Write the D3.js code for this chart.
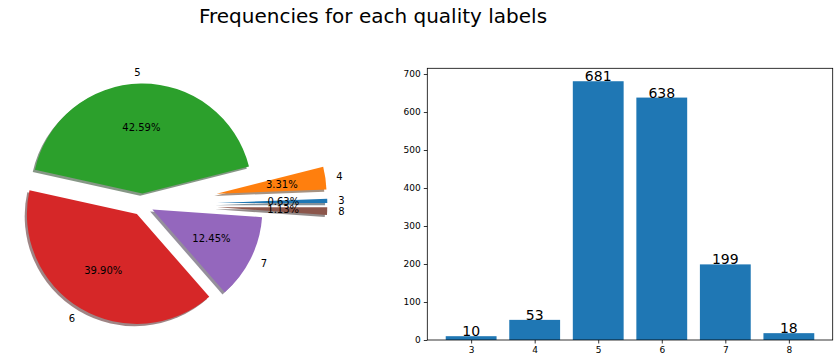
<!DOCTYPE html>
<html>
<head>
<meta charset="utf-8">
<script src="https://cdn.jsdelivr.net/npm/d3@7"></script>
<style>
  body { margin: 0; background: #fff; }
  svg { font-family: "DejaVu Sans", sans-serif; }
</style>
</head>
<body>
<svg id="chart" width="840" height="364"></svg>
<script>
// quality labels and their counts
const labels = ["3", "4", "5", "6", "7", "8"];
const counts = [10, 53, 681, 638, 199, 18];
const explode = [0.68, 0.68, 0.1, 0.1, 0.1, 0.68];
const colors = ["#1f77b4", "#ff7f0e", "#2ca02c", "#d62728", "#9467bd", "#8c564b"];
const yTicks = [0, 100, 200, 300, 400, 500, 600, 700];

const svg = d3.select("#chart");

svg.append("text")
  .attr("x", 373).attr("y", 23)
  .attr("text-anchor", "middle")
  .attr("font-size", "20px")
  .text("Frequencies for each quality labels");

// ---- pie ----
const cx = 142.5, cy = 204.5, r = 110;
const total = d3.sum(counts);

// matplotlib style: start at 3 o'clock, go counterclockwise
const pie = d3.pie().sort(null).startAngle(Math.PI / 2).endAngle(Math.PI / 2 - 2 * Math.PI);
const arcs = pie(counts);
const arc = d3.arc().innerRadius(0).outerRadius(r);

// offset of each exploded wedge
const mid = d => (d.startAngle + d.endAngle) / 2;
const offset = (d, i) => {
  const a = mid(d), e = explode[i] * r;
  return [e * Math.sin(a), -e * Math.cos(a)];
};

const pieG = svg.append("g").attr("transform", `translate(${cx},${cy})`);

// shadows first, underneath every wedge
pieG.selectAll("path.shadow")
  .data(arcs)
  .join("path")
  .attr("class", "shadow")
  .attr("d", arc)
  .attr("transform", (d, i) => {
    const [ox, oy] = offset(d, i);
    return `translate(${ox - 2.2},${oy + 2.2})`;
  })
  .attr("fill", (d, i) => {
    const c = d3.rgb(colors[i]);
    return d3.rgb(c.r * 0.3, c.g * 0.3, c.b * 0.3);
  })
  .attr("opacity", 0.5);

pieG.selectAll("path.wedge")
  .data(arcs)
  .join("path")
  .attr("class", "wedge")
  .attr("d", arc)
  .attr("transform", (d, i) => {
    const [ox, oy] = offset(d, i);
    return `translate(${ox},${oy})`;
  })
  .attr("fill", (d, i) => colors[i]);

// labels at 1.1r, percentages at 0.6r
arcs.forEach((d, i) => {
  const [ox, oy] = offset(d, i);
  const a = mid(d);
  const lx = ox + 1.1 * r * Math.sin(a), ly = oy - 1.1 * r * Math.cos(a);
  pieG.append("text")
    .attr("x", lx).attr("y", ly)
    .attr("dy", "0.35em")
    .attr("text-anchor", lx > ox ? "start" : "end")
    .attr("font-size", "10px")
    .text(labels[i]);
  const px = ox + 0.6 * r * Math.sin(a), py = oy - 0.6 * r * Math.cos(a);
  pieG.append("text")
    .attr("x", px).attr("y", py)
    .attr("dy", "0.35em")
    .attr("text-anchor", "middle")
    .attr("font-size", "10px")
    .text((counts[i] / total * 100).toFixed(2) + "%");
});

// ---- bars ----
const bx0 = 427.3, bx1 = 832.7, by0 = 68.3, by1 = 340;
const qual = labels.map(Number);
const x = d3.scaleLinear().domain([2.31, 8.69]).range([bx0, bx1]);
const y = d3.scaleLinear().domain([0, d3.max(counts) * 1.05]).range([by1, by0]);

const barG = svg.append("g");
barG.selectAll("rect")
  .data(counts)
  .join("rect")
  .attr("x", (d, i) => x(qual[i] - 0.4))
  .attr("width", (d, i) => x(qual[i] + 0.4) - x(qual[i] - 0.4))
  .attr("y", d => y(d))
  .attr("height", d => y(0) - y(d))
  .attr("fill", "#1f77b4");

barG.selectAll("text.val")
  .data(counts)
  .join("text")
  .attr("class", "val")
  .attr("x", (d, i) => x(qual[i]))
  .attr("y", d => y(d))
  .attr("text-anchor", "middle")
  .attr("font-size", "14px")
  .text(d => d);

const xAxis = svg.append("g")
  .attr("transform", `translate(0,${by1})`)
  .call(d3.axisBottom(x).tickValues(qual).tickFormat(d3.format("d")).tickSize(3.5).tickPadding(3));
const yAxis = svg.append("g")
  .attr("transform", `translate(${bx0},0)`)
  .call(d3.axisLeft(y).tickValues(yTicks).tickSize(3.5).tickPadding(3));

[xAxis, yAxis].forEach(g => {
  g.select(".domain").remove();
  g.selectAll("text").attr("font-size", "9px").attr("font-family", "DejaVu Sans").attr("fill", "#000");
  g.selectAll("line").attr("stroke", "#000").attr("stroke-width", 0.8);
});

svg.append("rect")
  .attr("x", bx0).attr("y", by0)
  .attr("width", bx1 - bx0).attr("height", by1 - by0)
  .attr("fill", "none")
  .attr("stroke", "#000")
  .attr("stroke-width", 0.8);
</script>
</body>
</html>
